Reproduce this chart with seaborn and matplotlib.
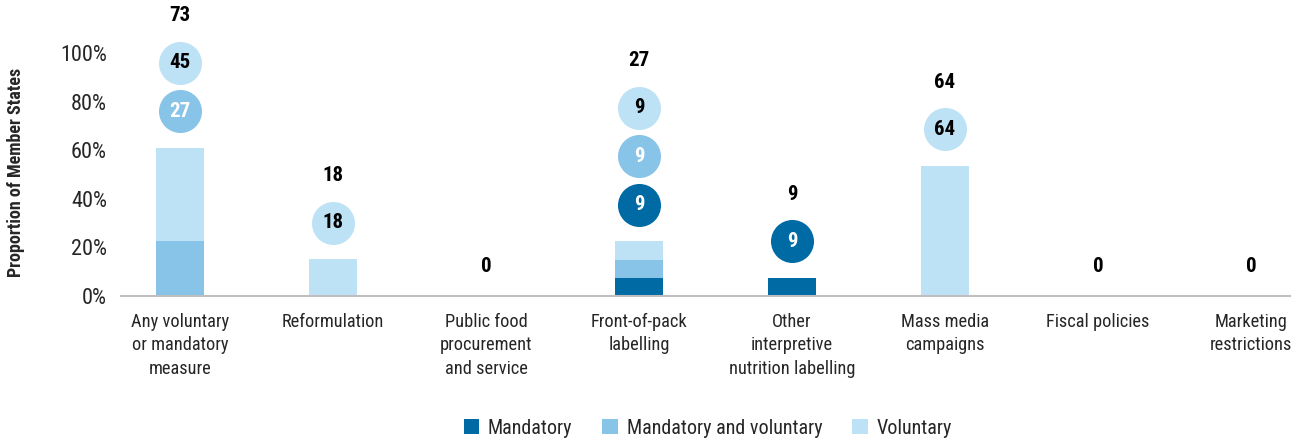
import numpy as np
import pandas as pd
import matplotlib
matplotlib.use("Agg")
import matplotlib.pyplot as plt
import seaborn as sns
from matplotlib.patches import Patch
from matplotlib import font_manager

# ---------------- data ----------------
categories = [
    "Any voluntary\nor mandatory\nmeasure",
    "Reformulation",
    "Public food\nprocurement\nand service",
    "Front-of-pack\nlabelling",
    "Other\ninterpretive\nnutrition labelling",
    "Mass media\ncampaigns",
    "Fiscal policies",
    "Marketing\nrestrictions",
]
series = ["Mandatory", "Mandatory and voluntary", "Voluntary"]

# bar segment heights as drawn on the % axis
bar_mandatory = [0, 0, 0, 7.5, 7.5, 0, 0, 0]
bar_mand_vol = [22.7, 0, 0, 7.5, 0, 0, 0, 0]
bar_voluntary = [38.4, 15.2, 0, 7.6, 0, 53.7, 0, 0]

# values shown in the circles and totals
pct_mandatory = [0, 0, 0, 9, 9, 0, 0, 0]
pct_mand_vol = [27, 0, 0, 9, 0, 0, 0, 0]
pct_voluntary = [45, 18, 0, 9, 0, 64, 0, 0]
pct_total = [73, 18, 0, 27, 9, 64, 0, 0]

yticks = [0, 20, 40, 60, 80, 100]

# ---------------- style ----------------
c_dark = "#006aa5"
c_mid = "#88c3e8"
c_light = "#bee2f5"
colors = [c_dark, c_mid, c_light]
text_colors = ["white", "white", "black"]

sns.set_style("white")


def _w(w):
    if isinstance(w, str):
        return font_manager.weight_dict.get(w, 400)
    return w


fams = {}
for f in font_manager.fontManager.ttflist:
    fams.setdefault(f.name, set()).add(_w(f.weight))
names = sorted(fams)
narrow = [n for n in names if "Narrow" in n or "Condensed" in n]
pref = ["Liberation Sans Narrow", "Roboto Condensed", "Open Sans Condensed",
        "Noto Sans Condensed", "DejaVu Sans Condensed"]
narrow = [p for p in pref if p in narrow] + [n for n in narrow if n not in pref]
narrow_bold = [n for n in narrow if max(fams[n]) >= 600]

if narrow:
    fam = narrow[0]
    bold_fam = narrow_bold[0] if narrow_bold else "Liberation Sans"
    fs = dict(tick=16, cat=13.2, num=15, ylab=13, leg=14.5)
else:
    fam = "Liberation Sans" if "Liberation Sans" in names else "DejaVu Sans"
    bold_fam = fam
    fs = dict(tick=14, cat=11.5, num=13, ylab=10.5, leg=13)
if bold_fam == "Liberation Sans" and narrow:
    fs["num"] = 12.5
    fs["ylab"] = 11
plt.rcParams["font.family"] = [fam, "DejaVu Sans"]
bold_family = [bold_fam, "DejaVu Sans"]

fig = plt.figure(figsize=(12.94, 4.43), dpi=100)
ax = fig.add_axes([121 / 1294, 1 - 296 / 443, (1290 - 121) / 1294, 296 / 443])

m = np.array(bar_mandatory)
mv = np.array(bar_mand_vol)
v = np.array(bar_voluntary)
cum1 = m
cum2 = m + mv
cum3 = m + mv + v

bw = 48 / 153
for vals, col in [(cum3, c_light), (cum2, c_mid), (cum1, c_dark)]:
    df = pd.DataFrame({"cat": categories, "val": vals})
    sns.barplot(data=df, x="cat", y="val", order=categories, color=col,
                saturation=1, width=bw, errorbar=None, ax=ax, linewidth=0)

# circles and totals
pct_series = [pct_mandatory, pct_mand_vol, pct_voluntary]
for i in range(len(categories)):
    top = cum3[i]
    n = 0
    for pcts, col, tc in zip(pct_series, colors, text_colors):
        if pcts[i] > 0:
            y = top + 15 + 20 * n
            ax.scatter([i], [y], s=960, color=col, linewidths=0, zorder=3)
            ax.text(i, y, f"{pcts[i]}", ha="center", va="center", family=bold_family,
                    fontsize=fs["num"], fontweight="bold", color=tc, zorder=4)
            n += 1
    ty = top + 15 + 20 * n - 0.5 if n else 12
    ax.text(i, ty, f"{pct_total[i]}", ha="center", va="center", family=bold_family,
            fontsize=fs["num"], fontweight="bold", color="black", zorder=4)

ax.set_xlim(-59 / 153, (1290 - 180) / 153)
ax.set_ylim(0, 122)
ax.set_yticks(yticks)
ax.set_yticklabels([f"{t}%" for t in yticks], fontsize=fs["tick"])
ax.tick_params(axis="both", length=0)
ax.tick_params(axis="y", pad=10)
ax.tick_params(axis="x", pad=12, labelsize=fs["cat"])
for lab in ax.get_xticklabels():
    lab.set_linespacing(1.4)
ax.set_xlabel("")
ax.set_ylabel("")
for s in ["top", "right", "left"]:
    ax.spines[s].set_visible(False)
ax.spines["bottom"].set_color("#bfbfbf")
ax.spines["bottom"].set_linewidth(1.5)
ax.set_facecolor("none")

fig.text(16 / 1294, 1 - 172 / 443, "Proportion of Member States", rotation=90,
         ha="center", va="center", fontsize=fs["ylab"], fontweight="bold",
         family=bold_family)

handles = [Patch(facecolor=c, edgecolor="none", label=l) for c, l in zip(colors, series)]
fig.legend(handles=handles, loc="center", bbox_to_anchor=(0.547, 1 - 428 / 443),
           ncol=3, frameon=False, fontsize=fs["leg"], handlelength=0.75, handleheight=0.75,
           handletextpad=0.45, columnspacing=1.5)

fig.savefig("out.png", dpi=100)
